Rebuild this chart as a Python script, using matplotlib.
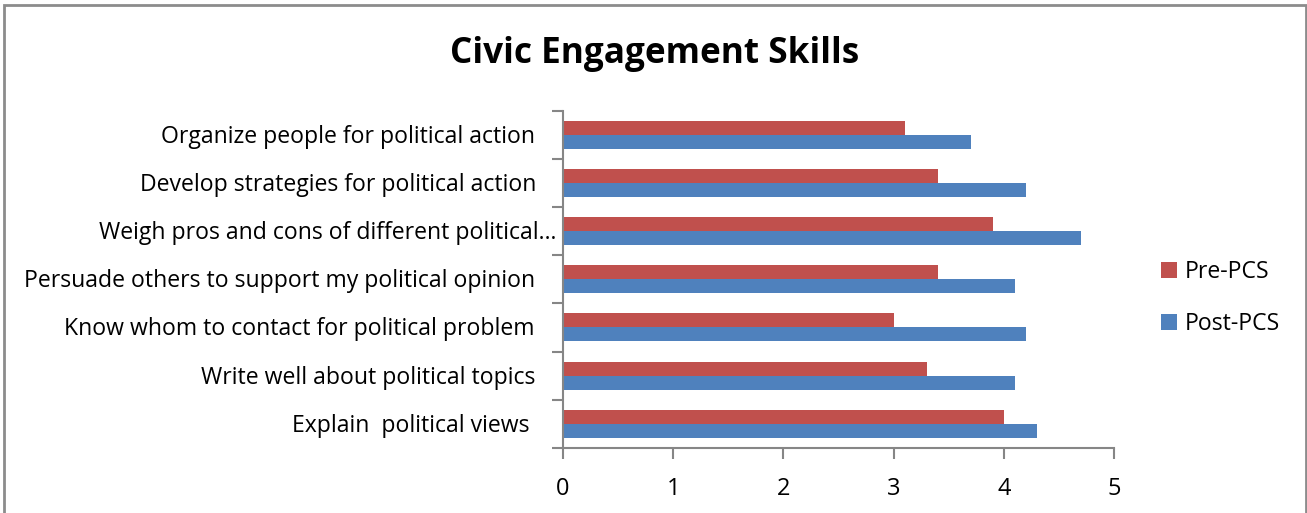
import matplotlib.pyplot as plt
from matplotlib.patches import Rectangle
from matplotlib import transforms
import numpy as np

categories = [
    "Organize people for political action",
    "Develop strategies for political action",
    "Weigh pros and cons of different political\u2026",
    "Persuade others to support my political opinion",
    "Know whom to contact for political problem",
    "Write well about political topics",
    "Explain  political views",
]
pre_pcs = [3.1, 3.4, 3.9, 3.4, 3.0, 3.3, 4.0]
post_pcs = [3.7, 4.2, 4.7, 4.1, 4.2, 4.1, 4.3]
xticks = [0, 1, 2, 3, 4, 5]
# gap (px) between the y axis and the right end of each label
label_gap = [28, 27, 7, 28, 28, 28, 33]

plt.rcParams['font.family'] = ['Open Sans', 'DejaVu Sans']

W, H = 1307, 513
fig = plt.figure(figsize=(W / 100, H / 100), dpi=100)
ax = fig.add_axes([563 / W, 1 - 448 / H, (1114 - 563) / W, (448 - 110.5) / H])

# border of the chart area
fig.patches.append(Rectangle((4 / W, -0.1), (1306 - 4) / W, 1.1 - 5 / H,
                             transform=fig.transFigure, fill=False,
                             edgecolor='#8c8c8c', linewidth=2))

n = len(categories)
y = np.arange(n)[::-1].astype(float)
h = 0.29
ax.barh(y + h / 2, pre_pcs, height=h, color='#C0504D', label='Pre-PCS')
ax.barh(y - h / 2, post_pcs, height=h, color='#4F81BD', label='Post-PCS')

ax.set_xlim(0, 5)
ax.set_ylim(-0.5, n - 0.5)
ax.set_xticks(xticks)
ax.set_xticklabels([str(t) for t in xticks], fontsize=17)

ax.set_yticks(y)
ax.set_yticklabels([])
ax.tick_params(axis='y', length=0)
ax.set_yticks(np.arange(-0.5, n, 1.0), minor=True)
ax.tick_params(axis='y', which='minor', length=8, color='#868686', width=1.5)
ax.tick_params(axis='x', length=8, color='#868686', width=1.5, pad=13)

trans = transforms.blended_transform_factory(ax.transAxes, ax.transData)
for yi, lab, gap in zip(y, categories, label_gap):
    off = transforms.ScaledTranslation(-gap / 100, -0.02, fig.dpi_scale_trans)
    ax.text(0, yi, lab, transform=trans + off, ha='right', va='center',
            fontsize=16.6)

for s in ['top', 'right']:
    ax.spines[s].set_visible(False)
for s in ['left', 'bottom']:
    ax.spines[s].set_color('#868686')
    ax.spines[s].set_linewidth(1.5)

fig.text(655 / W, 1 - 54 / H, "Civic Engagement Skills", fontsize=25.3,
         fontweight='bold', ha='center', va='center')

ax.legend(loc='center left', bbox_to_anchor=(1140 / W, 1 - 298 / H),
          bbox_transform=fig.transFigure, frameon=False, fontsize=16.6,
          handlelength=0.7, handleheight=0.7, labelspacing=1.2,
          handletextpad=0.35)

fig.savefig("out.png", dpi=100)
